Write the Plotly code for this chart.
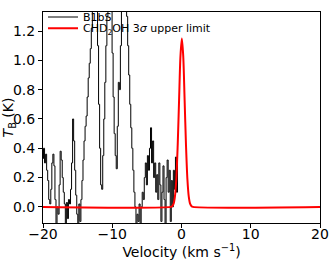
import numpy as np
import plotly.graph_objects as go

# B1bS spectrum: channel velocities (km/s) and brightness temperature (K)
chan_start = -20.3
chan_width = 0.15
b1bs_tb = [
    0.42, 0.38, 0.33, 0.40, 0.30, 0.36, 0.25,
    0.18, 0.05, 0.02, 0.12, 0.30, 0.36, 0.28,
    0.05, -0.12, 0.00, -0.05, 0.15, 0.38,
    0.32, 0.20, 0.10, 0.02, -0.12, 0.03, -0.08,
    0.05, 0.02, 0.12, 0.30, 0.60, 0.45,
    0.25, 0.08, -0.05, -0.12, 0.02, -0.10,
    0.05, 0.18, 0.32, 0.45, 0.55, 0.62, 0.75, 0.88, 0.98, 1.08, 1.22, 1.38,
    1.55, 1.65, 1.60, 1.45, 1.10, 0.70, 0.40,
    0.15, 0.12,
    0.35, 0.60, 0.85, 1.10, 1.30,
    1.50, 1.60, 1.55, 1.40, 1.05,
    0.75, 0.50, 0.35, 0.26,
    0.55, 0.85, 0.80, 1.10, 1.35,
    1.50, 1.55, 1.45, 1.40, 1.30,
    1.10, 0.90, 0.70, 0.54, 0.40, 0.25, 0.10, 0.00,
    -0.12, -0.05, -0.10, 0.02, -0.12, 0.00,
    0.10, 0.05, 0.20, 0.30, 0.15, 0.35, 0.25, 0.40, 0.54, 0.30, 0.45, 0.20, 0.30,
    0.10, 0.22, 0.05, 0.30, 0.15, -0.10, 0.10,
    0.28, 0.05, -0.12, 0.20, 0.32, 0.10, 0.25, -0.10, 0.18,
    0.00, 0.25, 0.12, 0.34, 0.10,
    0.30,
]
b1bs_v = [round(chan_start + chan_width * i, 3) for i in range(len(b1bs_tb))]

# CHD2OH 3-sigma upper limit profile
chd2oh_v = [-20.0, -1.55, -1.35, -1.15, -0.95, -0.75, -0.55, -0.35, -0.15, 0.05,
            0.25, 0.45, 0.65, 0.85, 1.05, 1.25, 1.45, 1.65, 20.0]
chd2oh_tb = [0.0, 0.0, 0.005, 0.02, 0.07, 0.19, 0.42, 0.73, 1.03, 1.15,
             1.03, 0.73, 0.42, 0.19, 0.07, 0.02, 0.005, 0.0, 0.0]

x_ticks = [-20, -10, 0, 10, 20]
y_ticks = [0.0, 0.2, 0.4, 0.6, 0.8, 1.0, 1.2]

font_family = "DejaVu Sans"

fig = go.Figure()
fig.add_trace(go.Scatter(
    x=b1bs_v, y=b1bs_tb, mode="lines", name="B1bS",
    line=dict(color="black", width=1, shape="hvh"),
    legend="legend",
))
fig.add_trace(go.Scatter(
    x=chd2oh_v, y=chd2oh_tb, mode="lines",
    name="CHD<sub>2</sub>OH 3<i>σ</i> upper limit",
    line=dict(color="#ff0000", width=2, shape="spline", smoothing=0.8),
    legend="legend2",
))

legend_common = dict(
    xanchor="left", yanchor="top",
    bgcolor="rgba(0,0,0,0)", borderwidth=0,
    font=dict(family=font_family, size=11, color="black"),
)

fig.update_layout(
    width=332, height=261,
    margin=dict(l=43, r=12, t=3, b=38),
    paper_bgcolor="white", plot_bgcolor="white",
    font=dict(family=font_family, size=14, color="black"),
    showlegend=True,
    legend=dict(x=0.0, y=1.045, **legend_common),
    legend2=dict(x=0.0, y=0.992, **legend_common),
    xaxis=dict(
        range=[-20, 20], tickvals=x_ticks, ticks="outside", ticklen=4,
        tickcolor="black", showline=True, linecolor="black", linewidth=1,
        mirror=True, showgrid=False, zeroline=False,
        ticklabelstandoff=-6,
        title=dict(text="Velocity (km s<sup>−1</sup>)", standoff=0,
                   font=dict(size=14)),
        tickfont=dict(size=14),
    ),
    yaxis=dict(
        range=[-0.11, 1.33], tickvals=y_ticks, tickformat=".1f",
        ticks="outside", ticklen=4, tickcolor="black",
        showline=True, linecolor="black", linewidth=1, mirror=True,
        showgrid=False, zeroline=False,
        title=dict(text="<i>T</i><sub>B</sub> (K)", standoff=0,
                   font=dict(size=14)),
        tickfont=dict(size=14),
    ),
)

fig.write_html("out.html", config={"displayModeBar": False},
               post_script="document.body.style.margin='0';")
